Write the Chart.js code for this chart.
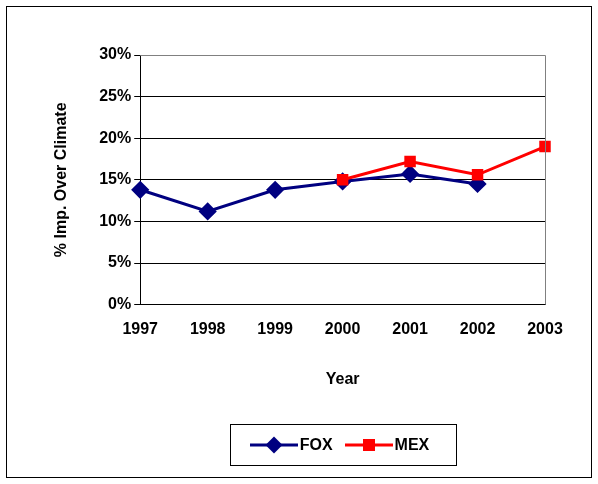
<!DOCTYPE html>
<html><head><meta charset="utf-8">
<script src="https://cdn.jsdelivr.net/npm/chart.js@4"></script>
<style>
body{margin:0;background:#fff;font-family:'Liberation Sans',Arial,sans-serif}
#wrap{position:relative;width:598px;height:484px}
#frame{position:absolute;left:6px;top:6px;width:584px;height:470px;border:1px solid #000}
#legend{position:absolute;left:230px;top:424px;width:225px;height:40px;border:1px solid #000;display:flex;align-items:center;justify-content:center;font-weight:bold;font-size:16px}
#legend span{margin-right:10px}
</style>
</head><body><div id="wrap"><div id="frame"></div><canvas id="c"></canvas>
<div id="legend">
<svg width="52" height="20"><line x1="2" y1="10" x2="50" y2="10" stroke="#000080" stroke-width="3"/><rect x="20" y="4" width="12" height="12" fill="#000080" transform="rotate(45 26 10)"/></svg><span>FOX</span>
<svg width="52" height="20"><line x1="2" y1="10" x2="50" y2="10" stroke="#ff0000" stroke-width="3"/><rect x="20" y="4" width="12" height="12" fill="#ff0000"/></svg><span>MEX</span>
</div></div>
<script>
var years = ["1997", "1998", "1999", "2000", "2001", "2002", "2003"];
var fox = [13.8, 11.2, 13.8, 14.8, 15.7, 14.5, null];
var mex = [null, null, null, 15.0, 17.2, 15.6, 19.0];

var topRight = {
    id: 'topRight',
    afterDraw: function (chart) {
        var ctx = chart.ctx, a = chart.chartArea;
        ctx.save();
        ctx.strokeStyle = '#808080';
        ctx.lineWidth = 1;
        ctx.beginPath();
        ctx.moveTo(a.left, a.top + 0.5); ctx.lineTo(a.right + 0.5, a.top + 0.5); ctx.lineTo(a.right + 0.5, a.bottom);
        ctx.stroke();
        ctx.restore();
    }
};
var f = { family: 'Liberation Sans', size: 16, weight: 'bold' };

new Chart(document.getElementById('c'), {
    type: 'line',
    data: {
        labels: years,
        datasets: [{
            label: 'FOX', data: fox, borderColor: '#000080', backgroundColor: '#000080', order: 1,
            borderWidth: 3, pointStyle: 'rectRot', pointRadius: 7, tension: 0
        }, {
            label: 'MEX', data: mex, borderColor: '#ff0000', backgroundColor: '#ff0000', order: 0,
            borderWidth: 3, pointStyle: 'rect', pointRadius: 6, tension: 0
        }]
    },
    options: {
        responsive: true, maintainAspectRatio: false, animation: false,
        layout: { padding: { left: 48, right: 53, top: 55, bottom: 91 } },
        plugins: { legend: { display: false }, tooltip: { enabled: false } },
        scales: {
            x: {
                offset: false,
                grid: { display: false },
                border: { color: '#000' },
                ticks: { color: '#000', font: f, maxRotation: 0, padding: 7 },
                title: { display: true, text: 'Year', color: '#000', padding: { top: 24 }, font: f }
            },
            y: {
                min: 0, max: 30,
                grid: { color: '#000', tickLength: 6 },
                border: { color: '#000' },
                ticks: { stepSize: 5, color: '#000', font: f, callback: function (v) { return v + '%'; } },
                title: { display: true, text: '% Imp. Over Climate', color: '#000', font: f, padding: { bottom: 25 } }
            }
        }
    },
    plugins: [topRight]
});
</script></body></html>
